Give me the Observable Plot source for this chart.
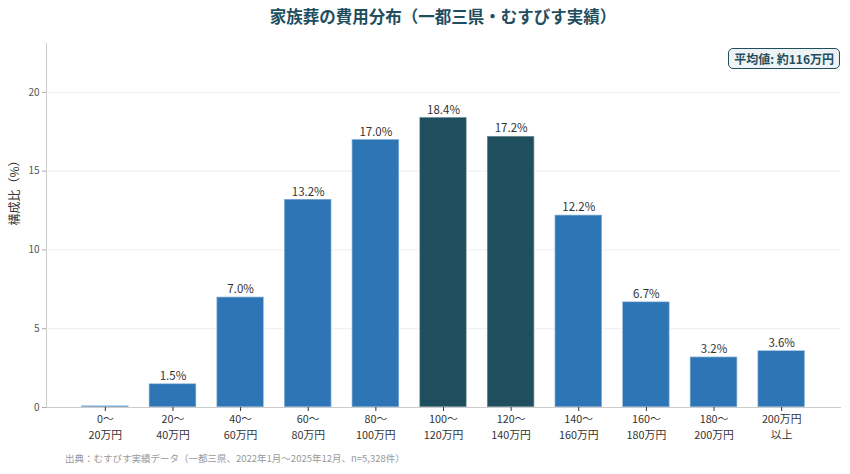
<!DOCTYPE html>
<html><head><meta charset="utf-8">
<script src="https://cdn.jsdelivr.net/npm/d3@7"></script>
<script src="https://cdn.jsdelivr.net/npm/@observablehq/plot@0.6"></script>
<style>
body{margin:0;background:#fff;font-family:"Noto Sans CJK JP","Noto Sans",sans-serif;}
#wrap{position:relative;width:850px;height:474px;}
#title{position:absolute;left:36px;width:814px;top:4px;text-align:center;font-size:16.5px;font-weight:bold;color:#1f4e5f;}
#legend{position:absolute;right:10px;top:48px;padding:1px 5px;border:1.5px solid #1f4e5f;border-radius:5px;background:#eef3f6;color:#1f4e5f;font-size:12px;font-weight:bold;}
#caption{position:absolute;left:65px;top:451px;font-size:9.5px;color:#999;}
#chart{position:absolute;left:0;top:34px;}
</style></head>
<body><div id="wrap">
<div id="title">家族葬の費用分布（一都三県・むすびす実績）</div>
<div id="chart"></div>
<div id="legend">平均値: 約116万円</div>
<div id="caption">出典：むすびす実績データ（一都三県、2022年1月〜2025年12月、n=5,328件）</div>
</div>
<script>
const categories = ["0〜\n20万円","20〜\n40万円","40〜\n60万円","60〜\n80万円","80〜\n100万円","100〜\n120万円","120〜\n140万円","140〜\n160万円","160〜\n180万円","180〜\n200万円","200万円\n以上"];
const values = [0.1, 1.5, 7.0, 13.2, 17.0, 18.4, 17.2, 12.2, 6.7, 3.2, 3.6];
const highlighted = ["100〜\n120万円","120〜\n140万円"];
const yTicks = [0, 5, 10, 15, 20];

const data = categories.map((c, i) => ({cat: c, v: values[i], hi: highlighted.includes(c)}));

const chart = Plot.plot({
  width: 850, height: 414,
  marginLeft: 46, marginRight: 10, marginTop: 9, marginBottom: 41,
  style: {fontFamily: '"Noto Sans CJK JP","Noto Sans",sans-serif', background: "#fff"},
  x: {domain: categories, paddingInner: 0.3, paddingOuter: 0.52, round: false, label: null},
  y: {domain: [0, 23.1], label: null},
  marks: [
    Plot.gridY(yTicks, {stroke: "#eeeeee", strokeOpacity: 1}),
    Plot.barY(data, {x: "cat", y: "v", fill: d => d.hi ? "#1f4e5f" : "#2e75b6", stroke: "white", strokeOpacity: 0.45, strokeWidth: 1.5}),
    Plot.text(data.filter(d => d.v >= 0.5), {x: "cat", y: "v", text: d => d.v.toFixed(1) + "%", lineAnchor: "bottom", dy: -4, fontSize: 11.5, fill: "#333"}),
    Plot.frame({anchor: "left", stroke: "#cccccc"}),
    Plot.frame({anchor: "bottom", stroke: "#cccccc"}),
    Plot.axisY({ticks: yTicks, tickSize: 4, stroke: "#aaa", fontSize: 10, fill: "#555", label: null, tickPadding: 3}),
    Plot.axisX({tickSize: 4, stroke: "#333", fontSize: 10.8, fill: "#333", label: null, tickPadding: 4, tickFormat: d => d.split("\n")[0]}),
    Plot.axisX({tickSize: 0, fontSize: 10.8, fill: "#333", label: null, tickPadding: 24, tickFormat: d => d.split("\n")[1]}),
    Plot.text(["構成比（%）"], {frameAnchor: "left", dx: -31, rotate: -90, fontSize: 12, fill: "#333"})
  ]
});
document.getElementById("chart").appendChild(chart);
</script>
</body></html>
